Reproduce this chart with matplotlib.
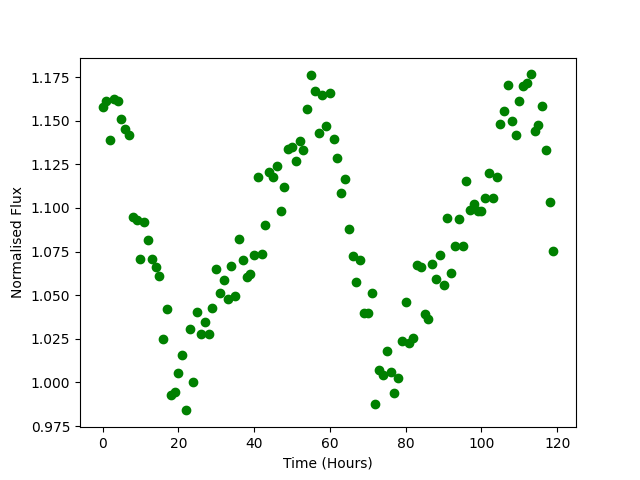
import numpy as np
import matplotlib
matplotlib.use("Agg")
import matplotlib.pyplot as plt

# time in hours, one reading per hour
hours = np.arange(0, 120)

# normalised flux
flux = [1.1576, 1.1611, 1.1390, 1.1622, 1.1611, 1.1508, 1.1450, 1.1417, 1.0950, 1.0930,
        1.0710, 1.0917, 1.0814, 1.0705, 1.0660, 1.0610, 1.0250, 1.0420, 0.9928, 0.9943,
        1.0052, 1.0157, 0.9840, 1.0306, 1.0000, 1.0402, 1.0280, 1.0344, 1.0280, 1.0426,
        1.0650, 1.0512, 1.0585, 1.0476, 1.0670, 1.0493, 1.0822, 1.0700, 1.0602, 1.0619,
        1.0728, 1.1177, 1.0736, 1.0900, 1.1206, 1.1177, 1.1238, 1.0984, 1.1118, 1.1336,
        1.1350, 1.1267, 1.1383, 1.1332, 1.1565, 1.1760, 1.1668, 1.1430, 1.1645, 1.1467,
        1.1657, 1.1393, 1.1284, 1.1083, 1.1166, 1.0877, 1.0722, 1.0575, 1.0700, 1.0396,
        1.0396, 1.0510, 0.9876, 1.0071, 1.0043, 1.0178, 1.0058, 0.9937, 1.0024, 1.0239,
        1.0459, 1.0228, 1.0253, 1.0674, 1.0660, 1.0390, 1.0365, 1.0678, 1.0592, 1.0730,
        1.0556, 1.0940, 1.0625, 1.0782, 1.0934, 1.0782, 1.1154, 1.0986, 1.1022, 1.0980,
        1.0980, 1.1057, 1.1200, 1.1057, 1.1177, 1.1482, 1.1553, 1.1704, 1.1498, 1.1416,
        1.1611, 1.1696, 1.1714, 1.1765, 1.1440, 1.1473, 1.1582, 1.1332, 1.1032, 1.0753]

plt.figure(figsize=(6.4, 4.8), dpi=100)
plt.plot(hours, flux, 'go')
plt.xlabel("Time (Hours)")
plt.ylabel("Normalised Flux")
plt.savefig("out.png")
